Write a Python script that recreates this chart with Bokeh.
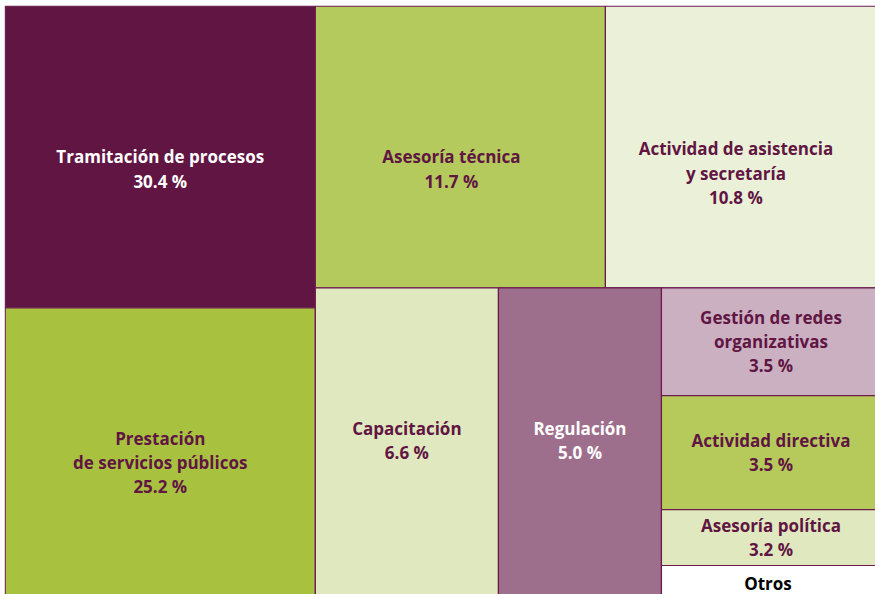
from bokeh.plotting import figure
from bokeh.models import ColumnDataSource, Range1d
from bokeh.core.properties import value
from bokeh.embed import file_html
from bokeh.resources import INLINE

# ---- data ----
categories = [
    "Tramitación de procesos",
    "Prestación\nde servicios públicos",
    "Asesoría técnica",
    "Actividad de asistencia\ny secretaría",
    "Capacitación",
    "Regulación",
    "Gestión de redes\norganizativas",
    "Actividad directiva",
    "Asesoría política",
    "Otros",
]
percentages = [30.4, 25.2, 11.7, 10.8, 6.6, 5.0, 3.5, 3.5, 3.2, None]
# relative tile areas as drawn in the original treemap
tile_area = [17.93, 17.46, 15.66, 14.85, 11.01, 9.80, 4.53, 4.78, 2.35, 1.51]

# ---- styling ----
fill_colors = ["#611543", "#A8C240", "#B4CA5C", "#EBF1D8", "#DFE8BE",
               "#9E6F8C", "#CBB0C2", "#B5CA5B", "#DFE8BE", "#FFFFFF"]
text_colors = ["#FFFFFF", "#611543", "#611543", "#611543", "#611543",
               "#FFFFFF", "#611543", "#611543", "#611543", "#000000"]
border_color = "#6B1A4C"
label_nudge = {0: (0, 12), 1: (0, 8), 2: (-9, 22), 3: (-7, 26),
               4: (0, -4), 5: (0, -4), 9: (-3, 0)}

# nested slice-and-dice structure: 'h' = split horizontally, 'v' = vertically
structure = ("h", [("v", [0, 1]),
                   ("v", [("h", [2, 3]),
                          ("h", [4, 5, ("v", [6, 7, 8, 9])])])])


def weight(node):
    if isinstance(node, int):
        return tile_area[node]
    return sum(weight(c) for c in node[1])


rects = {}


def layout(node, x0, y0, x1, y1):
    if isinstance(node, int):
        rects[node] = (x0, y0, x1, y1)
        return
    direction, children = node
    total = sum(weight(c) for c in children)
    pos = x0 if direction == "h" else y0
    for c in children:
        frac = weight(c) / total
        if direction == "h":
            nxt = pos + (x1 - x0) * frac
            layout(c, pos, y0, nxt, y1)
        else:
            nxt = pos + (y1 - y0) * frac
            layout(c, x0, pos, x1, nxt)
        pos = nxt


layout(structure, 0.0, 0.0, 1.0, 1.0)

n = len(categories)
left = [rects[i][0] for i in range(n)]
top = [rects[i][1] for i in range(n)]
right = [rects[i][2] for i in range(n)]
bottom = [rects[i][3] for i in range(n)]
labels = [c if p is None else f"{c}\n{p:.1f} %" for c, p in zip(categories, percentages)]
cx = [(l + r) / 2 for l, r in zip(left, right)]
cy = [(t + b) / 2 for t, b in zip(top, bottom)]
xo = [label_nudge.get(i, (0, 0))[0] for i in range(n)]
yo = [label_nudge.get(i, (0, 0))[1] for i in range(n)]

src = ColumnDataSource(dict(left=left, right=right, top=top, bottom=bottom,
                            fill=fill_colors, tcol=text_colors, label=labels,
                            cx=cx, cy=cy, xo=xo, yo=yo))

p = figure(width=875, height=594, output_backend="svg", toolbar_location=None,
           x_range=Range1d(-0.0008, 0.9943), y_range=Range1d(0.9883, -0.0012),
           min_border=0, min_border_left=4, min_border_top=5,
           outline_line_color=None)
p.axis.visible = False
p.grid.visible = False
p.background_fill_color = "white"
p.border_fill_color = "white"

p.quad(left="left", right="right", top="top", bottom="bottom", source=src,
       fill_color="fill", line_color=border_color, line_width=1.2)

p.text(x="cx", y="cy", text="label", source=src, x_offset="xo", y_offset="yo",
       text_align="center", text_baseline="middle", text_color="tcol",
       text_font=value("Open Sans"), text_font_size="17px",
       text_font_style="bold", text_line_height=1.05)

open("out.html", "w").write(file_html(p, INLINE))
